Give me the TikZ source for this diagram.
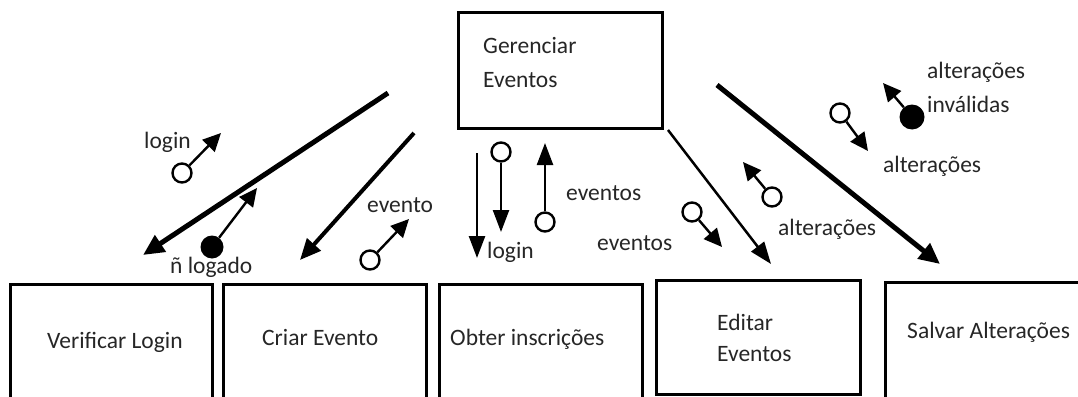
\documentclass[tikz,border=0pt]{standalone}
\usepackage{fontspec}
\setmainfont{Carlito}
\usetikzlibrary{arrows.meta}
\begin{document}
\begin{tikzpicture}[x=1pt,y=-1pt,
  box/.style={draw, line width=3pt, rectangle, inner sep=0pt, anchor=north west},
  lbl/.style={anchor=base west, inner sep=0pt, font=\fontsize{23.5}{31}\selectfont, text=black!85},
  oc/.style={circle, draw, line width=2.4pt, minimum size=19pt, inner sep=0pt, fill=white},
  fc/.style={circle, fill=black, minimum size=23pt, inner sep=0pt},
  big/.style={line width=5pt, -{Triangle[length=21pt,width=19pt]}},
  mid/.style={line width=2.5pt, -{Triangle[length=22pt,width=16pt]}},
  sm/.style={line width=2.4pt, -{Triangle[length=18pt,width=17pt]}},
]
\useasboundingbox (0,0) rectangle (1078,396);

% boxes
\node[box, minimum width=204pt, minimum height=116pt] (ger) at (457,11) {};
\node[box, minimum width=202pt, minimum height=127pt] (ver) at (9,283) {};
\node[box, minimum width=203pt, minimum height=127pt] (cri) at (222,283) {};
\node[box, minimum width=203pt, minimum height=127pt] (obt) at (438,283) {};
\node[box, minimum width=204pt, minimum height=114pt] (edi) at (655,279) {};
\node[box, minimum width=206pt, minimum height=127pt] (sal) at (884,281) {};

% box texts
\node[lbl] (tger1) at (483,54) {Gerenciar};
\node[lbl] (tger2) at (483,87) {Eventos};
\node[lbl] (tver) at (47,348) {Verificar Login};
\node[lbl] (tcri) at (262,345) {Criar Evento};
\node[lbl] (tobt) at (450,345) {Obter inscrições};
\node[lbl] (tedi1) at (717,330) {Editar};
\node[lbl] (tedi2) at (717,361) {Eventos};
\node[lbl] (tsal) at (907,338) {Salvar Alterações};

% main connectors
\coordinate (a1s) at (388,93);  \coordinate (a1e) at (143,255);
\draw[big] (a1s) -- (a1e);
\coordinate (a2s) at (414,133); \coordinate (a2e) at (300,260);
\draw[line width=4pt, -{Triangle[length=21pt,width=18pt]}] (a2s) -- (a2e);
\coordinate (a3s) at (477,153); \coordinate (a3e) at (477,258);
\draw[mid] (a3s) -- (a3e);
\coordinate (a4s) at (668,130); \coordinate (a4e) at (771,264);
\draw[mid] (a4s) -- (a4e);
\coordinate (a5s) at (717,85);  \coordinate (a5e) at (940,264);
\draw[big] (a5s) -- (a5e);

% small data-flow arrows
\coordinate (t1) at (221,133);
\node[oc] (c1) at (182,173) {};
\draw[sm] (c1) -- (t1);

\coordinate (t2) at (257,188);
\node[fc] (c2) at (212,247) {};
\draw[sm] (c2) -- (t2);

\coordinate (t3) at (409,219);
\node[oc] (c3) at (370,260) {};
\draw[sm] (c3) -- (t3);

\coordinate (t4) at (501,232);
\node[oc] (c4) at (501,152) {};
\draw[line width=2.4pt, -{Triangle[length=22pt,width=16pt]}] (c4) -- (t4);

\coordinate (t5) at (545,143);
\node[oc] (c5) at (545,222) {};
\draw[line width=2.4pt, -{Triangle[length=22pt,width=16pt]}] (c5) -- (t5);

\coordinate (t6) at (722,247);
\node[oc] (c6) at (692,212) {};
\draw[sm] (c6) -- (t6);

\coordinate (t7) at (743,162);
\node[oc] (c7) at (772,197) {};
\draw[sm] (c7) -- (t7);

\coordinate (t8) at (868,151);
\node[oc] (c8) at (840,113) {};
\draw[sm] (c8) -- (t8);

\coordinate (t9) at (883,83);
\node[fc, minimum size=25pt] (c9) at (912,117) {};
\draw[sm] (c9) -- (t9);

% labels
\node[lbl] (l1) at (144,148) {login};
\node[lbl] (l2) at (170,273) {ñ logado};
\node[lbl] (l3) at (367,212) {evento};
\node[lbl] (l4) at (566,200) {eventos};
\node[lbl] (l5) at (597,250) {eventos};
\node[lbl] (l6) at (487,258) {login};
\node[lbl] (l7) at (778,235) {alterações};
\node[lbl] (l8) at (883,172) {alterações};
\node[lbl] (l9) at (927,78) {alterações};
\node[lbl] (l10) at (927,112) {inválidas};
\end{tikzpicture}
\end{document}
